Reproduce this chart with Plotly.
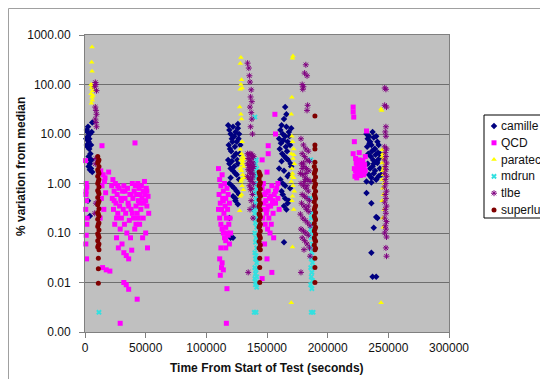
import plotly.graph_objects as go

# ---------------- data (time in s, % variation from median) ----------------
CAMILLE = [
    (2000, 11), (2500, 9), (1500, 12), (3000, 7), (3500, 5), (4000, 10), (4500, 4), (5000, 6),
    (5500, 3), (6000, 17), (1000, 8), (2000, 5.5), (3000, 3.5), (4000, 2.5), (5000, 2), (6000, 1.7),
    (2500, 14), (3500, 8), (4500, 3), (5500, 11), (1500, 6), (3000, 2.2), (4000, 1.9), (2500, 0.45),
    (4000, 0.22),
    (118000, 15), (119000, 12), (120000, 10), (121000, 8), (122000, 14), (123000, 9), (124000, 11),
    (125000, 7), (126000, 13), (127000, 10), (128000, 6), (118500, 6), (119500, 5), (120500, 4.5),
    (121500, 7), (122500, 3.5), (123500, 5.5), (124500, 4), (125500, 3), (126500, 8), (127500, 4),
    (118000, 3), (119000, 2.5), (120000, 2), (121000, 2.8), (122000, 1.8), (123000, 2.2),
    (124000, 1.6), (125000, 1.5), (126000, 2.5), (127000, 1.2), (119000, 1.0), (121000, 0.9),
    (123000, 0.8), (125000, 0.7), (127000, 0.6), (120000, 1.3), (122000, 0.55), (124000, 0.45),
    (126000, 0.38), (120000, 0.08), (122000, 0.08), (119000, 0.2), (124000, 0.5), (126000, 16),
    (160000, 8), (161000, 12), (162000, 15), (163000, 10), (164000, 20), (165000, 9), (166000, 14),
    (167000, 7), (168000, 11), (169000, 6), (170000, 13), (160500, 5), (161500, 6.5), (162500, 4),
    (163500, 7.5), (164500, 3.5), (165500, 5.5), (166500, 4.5), (167500, 3), (168500, 9),
    (169500, 2.5), (160000, 2), (162000, 2.8), (164000, 1.8), (166000, 3.2), (168000, 1.5),
    (170000, 2.2), (161000, 1.2), (163000, 1.0), (165000, 0.9), (167000, 1.4), (169000, 0.8),
    (163000, 0.6), (165000, 0.5), (167000, 0.4), (164000, 0.35), (166000, 0.3), (168000, 0.45),
    (162000, 0.7), (165000, 35), (164000, 0.065), (166000, 25),
    (232000, 10), (233000, 8), (234000, 9), (235000, 7), (236000, 6), (237000, 11), (238000, 8.5),
    (239000, 5), (240000, 9), (241000, 7), (242000, 6), (243000, 4), (232500, 5.5), (233500, 4),
    (234500, 6.5), (235500, 3.5), (236500, 4.5), (237500, 3), (238500, 5), (239500, 3.8),
    (240500, 2.8), (241500, 4.2), (242500, 3.2), (233000, 2.5), (235000, 2), (237000, 2.2),
    (239000, 1.8), (241000, 2.6), (243000, 2), (234000, 1.5), (236000, 1.3), (238000, 1.6),
    (240000, 1.2), (242000, 1.4), (232000, 1.1), (236000, 1.05), (240000, 1.2), (244000, 1.5),
    (238000, 2.5), (232000, 0.64), (236000, 0.4), (240000, 0.21), (241000, 0.2), (238000, 0.128),
    (236000, 0.04), (237000, 0.013), (240000, 0.013),
]

QCD = [
    (500, 2.9), (1000, 1.0), (1500, 0.85), (800, 0.6), (1200, 0.45), (600, 0.3), (1800, 0.2),
    (1000, 0.09), (700, 0.06), (1300, 0.03), (1500, 0.15), (900, 0.7),
    (14000, 5.8), (13000, 1.8), (15000, 1.5), (19500, 1.7), (16000, 1.1), (14000, 0.9),
    (17000, 0.65), (13500, 0.5), (15500, 0.3), (12500, 0.2), (14500, 0.02), (17500, 0.018),
    (20500, 0.017), (16500, 1.3),
    (22000, 0.9), (22500, 0.5), (23000, 1.2), (23500, 0.3), (24000, 0.7), (24500, 0.15),
    (25000, 1.0), (25500, 0.4), (26000, 0.08), (26500, 0.6), (27000, 0.25), (27500, 0.05),
    (28000, 0.8), (28500, 0.35), (29000, 0.12), (29500, 0.5), (30000, 0.2), (30500, 0.06),
    (31000, 0.7), (31500, 0.3), (32000, 0.04), (32500, 0.15), (33000, 0.5), (33500, 0.25),
    (34000, 0.035), (34500, 0.1), (35000, 0.8), (35500, 0.4), (36000, 0.03), (36500, 0.18),
    (37000, 0.6), (37500, 0.08), (38000, 0.3), (38500, 0.045), (39000, 1.0), (39500, 0.5),
    (40000, 0.2), (40500, 0.7), (41000, 0.12), (41500, 0.9), (42000, 0.35), (42500, 0.6),
    (43000, 0.25), (43500, 1.0), (44000, 0.45), (44500, 0.8), (45000, 0.15), (45500, 0.6),
    (46000, 0.3), (46500, 0.9), (47000, 0.5), (47500, 0.08), (48000, 0.7), (48500, 0.4),
    (49000, 1.1), (49500, 0.6), (50000, 0.1), (50500, 0.8), (51000, 0.35), (51500, 0.05),
    (52000, 0.55), (52500, 0.25), (24000, 0.45), (27000, 0.9), (30000, 0.45), (33000, 0.7),
    (36000, 0.35), (39000, 0.25), (42000, 0.15), (45000, 0.4), (48000, 0.2), (51000, 0.7),
    (26000, 0.2), (32000, 0.9), (38000, 0.6), (44000, 0.2), (50000, 0.45), (41200, 6.6),
    (29000, 0.0015), (32000, 0.01), (34000, 0.009), (36000, 0.0073), (43000, 0.0046),
    (110000, 2.0), (111000, 1.2), (112000, 0.9), (113000, 1.5), (114000, 0.7), (115000, 1.0),
    (116000, 0.5), (117000, 0.8), (118000, 0.6), (119000, 0.4), (110500, 0.6), (111500, 0.4),
    (112500, 0.3), (113500, 0.5), (114500, 0.25), (115500, 0.35), (116500, 0.2), (117500, 0.3),
    (118500, 0.15), (111000, 0.2), (112000, 0.15), (113000, 0.12), (114000, 0.1), (115000, 0.08),
    (116000, 0.07), (117000, 0.1), (118000, 0.09), (119000, 0.06), (110000, 0.3), (114000, 0.45),
    (116000, 0.13), (112000, 0.05), (111000, 0.03), (112500, 0.02), (113000, 0.025),
    (111500, 0.014), (114000, 0.018), (116000, 0.05), (117000, 0.0075), (116500, 0.0015),
    (120000, 0.1), (119500, 0.2),
    (146000, 0.8), (147000, 1.0), (148000, 0.6), (149000, 0.45), (150000, 0.3), (151000, 0.7),
    (152000, 0.5), (153000, 0.35), (154000, 0.9), (155000, 0.25), (156000, 0.6), (157000, 0.4),
    (158000, 0.8), (159000, 0.5), (160000, 0.3), (146500, 0.2), (147500, 0.4), (148500, 0.15),
    (149500, 0.25), (150500, 0.12), (151500, 0.2), (152500, 0.1), (153500, 0.15), (154500, 0.4),
    (155500, 0.08), (147000, 0.3), (149000, 0.65), (151000, 0.35), (153000, 0.55), (155000, 0.45),
    (157000, 0.7), (159000, 1.0), (150000, 1.7), (151000, 4), (151000, 5.8), (156500, 25),
    (157000, 10), (150000, 0.03), (154000, 0.016), (146000, 0.012), (148000, 0.06), (146000, 3),
    (222000, 2.0), (223000, 1.8), (224000, 2.5), (225000, 1.5), (226000, 3.0), (227000, 2.2),
    (228000, 1.7), (229000, 2.8), (230000, 2.0), (231000, 3.5), (222500, 1.4), (223500, 2.6),
    (224500, 1.9), (225500, 2.3), (226500, 1.6), (227500, 2.9), (228500, 2.1), (229500, 1.5),
    (230500, 2.4), (223000, 3.2), (225000, 2.0), (227000, 1.45), (229000, 2.0), (231000, 1.8),
    (224000, 1.6), (226000, 2.0), (228000, 2.5), (230000, 1.6), (232000, 11.5), (221000, 35),
    (221000, 28), (221500, 22), (222000, 7), (221000, 4.0), (224000, 1.3), (226000, 4.2),
]

PARATEC = [
    (5800, 570), (5500, 280), (5800, 185), (5000, 100), (6000, 95), (5500, 85), (6300, 75),
    (5000, 65), (5800, 55), (6000, 48), (5300, 42), (6500, 60),
    (128500, 350), (128000, 265), (129000, 125), (128500, 100), (129500, 85), (128000, 80),
    (127500, 35), (128500, 25), (129000, 20), (129500, 7), (128000, 4.9), (129000, 4),
    (130000, 3.5), (128500, 3), (129500, 2.5), (130500, 2.2), (128000, 2), (129000, 1.8),
    (130000, 1.5), (131000, 1.3), (128500, 1.1), (129500, 0.9), (130500, 0.75), (129000, 0.6),
    (128000, 0.55), (127500, 0.28), (130000, 2.8), (131000, 3.2), (129000, 1.2),
    (171400, 375), (171000, 340), (170500, 55), (170000, 25), (170500, 9), (171000, 7),
    (172000, 5), (170000, 4), (171500, 3.2), (172500, 2.5), (170500, 2), (171000, 1.6),
    (172000, 1.3), (170000, 1.1), (171500, 0.9), (172500, 0.7), (171000, 0.55), (170500, 0.45),
    (172000, 0.3), (171000, 0.052), (170000, 0.0039), (172000, 3.8), (170500, 1.4),
    (244000, 32), (244500, 30), (245000, 4.8), (245500, 4), (246000, 3.2), (245000, 2.6),
    (246500, 2.2), (245500, 1.8), (246000, 1.5), (245000, 1.2), (246500, 1.0), (245500, 0.8),
    (246000, 0.6), (245000, 0.45), (246500, 0.3), (245500, 0.2), (246000, 0.13), (244000, 0.0039),
    (245000, 3.5), (246000, 2.0),
]

MDRUN = [
    (11500, 0.0025),
    (140000, 22), (141000, 3), (140500, 2.5), (141500, 2), (140000, 1.6), (141000, 1.3),
    (140500, 1.0), (141500, 0.8), (140000, 0.65), (141000, 0.5), (140500, 0.4), (141500, 0.32),
    (140000, 0.25), (141000, 0.2), (140500, 0.16), (141500, 0.13), (140000, 0.1), (141000, 0.08),
    (140500, 0.065), (141500, 0.05), (140000, 0.04), (141000, 0.035), (140500, 0.03),
    (141500, 0.025), (140000, 0.02), (141000, 0.018), (140500, 0.015), (141500, 0.013),
    (140000, 0.012), (141000, 0.01), (140500, 0.009), (141500, 0.008), (139500, 0.0025),
    (141000, 0.0025), (139000, 0.3), (142000, 1.5),
    (186000, 3), (187000, 0.25), (186500, 0.2), (187500, 0.15), (186000, 0.12), (187000, 0.1),
    (186500, 0.08), (187500, 0.06), (186000, 0.05), (187000, 0.04), (186500, 0.03),
    (187500, 0.025), (186000, 0.02), (187000, 0.016), (186500, 0.013), (187500, 0.011),
    (186000, 0.009), (187000, 0.0075), (186500, 0.0025), (188000, 0.0025), (185500, 0.5),
]

TLBE = [
    (8500, 110), (9000, 100), (8000, 90), (9500, 75), (8500, 35), (9000, 30), (9500, 25),
    (8500, 20), (9000, 17), (9500, 14), (9000, 3.2), (8500, 2.5), (9000, 0.4), (8000, 0.25),
    (134000, 270), (135000, 215), (135500, 150), (136000, 112), (137000, 78), (136500, 56),
    (137500, 45), (136000, 35), (137000, 27), (137500, 20), (136500, 14), (138000, 10),
    (134000, 4), (135000, 3.8), (136000, 4), (137000, 3.9), (138000, 3.7), (139000, 3.5),
    (134500, 3.2), (135500, 3), (136500, 2.8), (137500, 3.3), (138500, 2.6), (134000, 2.5),
    (135000, 2.3), (136000, 2.1), (137000, 2.4), (138000, 2), (139000, 2.2), (134500, 1.9),
    (135500, 1.8), (136500, 1.6), (137500, 1.7), (138500, 1.5), (134000, 1.4), (135000, 1.3),
    (136000, 1.2), (137000, 1.1), (138000, 1.3), (139000, 1.0), (135500, 0.9), (137500, 0.8),
    (136500, 0.75), (138000, 0.6), (137000, 0.45), (136000, 0.3), (139000, 0.35),
    (134500, 0.016), (138500, 0.2),
    (182000, 250), (181000, 170), (183000, 150), (179000, 100), (180000, 90), (179500, 80),
    (183500, 38), (183000, 30),
    (178000, 8), (180000, 6), (182000, 5), (184000, 4.5), (179000, 4), (181000, 3.5),
    (183000, 3), (185000, 2.8), (178500, 2.5), (180500, 2.2), (182500, 2), (184500, 1.8),
    (177500, 1.6), (179500, 1.5), (181500, 1.3), (183500, 1.2), (185500, 1.1), (178000, 1.0),
    (180000, 0.9), (182000, 0.8), (184000, 0.7), (179000, 0.6), (181000, 0.55), (183000, 0.5),
    (185000, 0.45), (178500, 0.4), (180500, 0.35), (182500, 0.3), (184500, 0.27),
    (177500, 0.24), (179500, 0.2), (181500, 0.18), (183500, 0.16), (185500, 0.14),
    (178000, 0.12), (180000, 0.11), (182000, 0.1), (184000, 0.09), (179000, 0.08),
    (181000, 0.07), (183000, 0.06), (185000, 0.05), (180000, 2.6), (182000, 1.6), (184000, 0.35),
    (181000, 1.1), (183000, 0.9), (179000, 2.0), (178000, 0.016), (185500, 0.034),
    (180500, 0.046),
    (247000, 85), (248000, 80), (247000, 38), (248500, 35), (248000, 14), (247500, 11),
    (248000, 9), (247000, 5.5), (248500, 5), (247500, 4.2), (248000, 3.5), (247000, 3),
    (248500, 2.6), (247500, 2.2), (248000, 1.9), (247000, 1.6), (248500, 1.4), (247500, 1.2),
    (248000, 1.0), (247000, 0.85), (248500, 0.7), (247500, 0.6), (248000, 0.5), (247000, 0.42),
    (248500, 0.35), (247500, 0.3), (248000, 0.25), (247000, 0.2), (248500, 0.17),
    (247500, 0.14), (248000, 0.12), (247000, 0.1), (248500, 0.083), (248000, 0.05),
    (248500, 0.034),
]

SUPERLU = [
    (10500, 3.5), (11500, 3.0), (10500, 2.6), (11500, 2.2), (10500, 1.9), (11500, 1.6),
    (10500, 1.4), (11500, 1.2), (10500, 1.0), (11500, 0.85), (10500, 0.72), (11500, 0.62),
    (10500, 0.52), (11500, 0.44), (10500, 0.37), (11500, 0.31), (10500, 0.26), (11500, 0.22),
    (10500, 0.19), (11500, 0.16), (10500, 0.135), (11500, 0.115), (10500, 0.097), (11500, 0.082),
    (10500, 0.07), (11500, 0.06), (10500, 0.052), (11500, 0.046), (11000, 2.8), (11000, 1.75),
    (11000, 1.1), (11000, 0.68), (11000, 0.41), (11000, 0.24), (11000, 0.15), (11000, 0.09),
    (11000, 0.056), (11000, 0.031), (11000, 0.019), (11000, 0.0097),
    (143500, 1.7), (144500, 1.45), (143500, 1.25), (144500, 1.05), (143500, 0.9), (144500, 0.77),
    (143500, 0.65), (144500, 0.55), (143500, 0.47), (144500, 0.4), (143500, 0.34), (144500, 0.29),
    (143500, 0.245), (144500, 0.21), (143500, 0.18), (144500, 0.15), (143500, 0.13),
    (144500, 0.11), (143500, 0.093), (144500, 0.079), (143500, 0.067), (144500, 0.057),
    (143500, 0.05), (144500, 0.046), (144000, 1.55), (144000, 0.97), (144000, 0.6),
    (144000, 0.37), (144000, 0.23), (144000, 0.14), (144000, 0.086), (144000, 0.031),
    (144000, 0.02), (144000, 0.01),
    (189000, 2.2), (190000, 1.9), (189000, 1.6), (190000, 1.35), (189000, 1.15), (190000, 0.98),
    (189000, 0.83), (190000, 0.7), (189000, 0.6), (190000, 0.5), (189000, 0.43), (190000, 0.36),
    (189000, 0.3), (190000, 0.26), (189000, 0.22), (190000, 0.185), (189000, 0.155),
    (190000, 0.13), (189000, 0.11), (190000, 0.094), (189000, 0.08), (190000, 0.068),
    (189000, 0.057), (190000, 0.049), (189500, 0.046), (189500, 1.75), (189500, 0.9),
    (189500, 0.55), (189500, 0.33), (189500, 0.2), (189500, 0.12), (189500, 0.072),
    (189500, 23), (189500, 6), (189500, 5), (189500, 2.7), (189500, 0.031), (189500, 0.02),
    (189500, 0.01),
]

X_TICKS = [0, 50000, 100000, 150000, 200000, 250000, 300000]
Y_TICKS = [0.001, 0.01, 0.1, 1, 10, 100, 1000]
Y_TICK_TEXT = ["0.00", "0.01", "0.10", "1.00", "10.00", "100.00", "1000.00"]

SERIES = [
    ("camille", CAMILLE, dict(symbol="diamond", size=5, color="#000080")),
    ("QCD", QCD, dict(symbol="square", size=5, color="#FF00FF")),
    ("paratec", PARATEC, dict(symbol="triangle-up", size=5, color="#FFFF00")),
    ("mdrun", MDRUN, dict(symbol="x", size=5, color="#33E0E0")),
    ("tlbe", TLBE, dict(symbol="asterisk-open", size=5, color="#800080",
                        line=dict(color="#800080", width=1))),
    ("superlu", SUPERLU, dict(symbol="circle", size=5, color="#800000")),
]

# ---------------- figure ----------------
W, H = 548, 379
OFF = 8  # page body margin of the rendered html
FONT = "Liberation Sans, Arial, sans-serif"
PL, PR, PT, PB = 85 - OFF, 449 - OFF, 35 - OFF, 332 - OFF          # plot area (px)
LG_L, LG_R, LG_T, LG_B = 484 - OFF, 546 - OFF, 115 - OFF, 218 - OFF  # legend box (px)

fig = go.Figure()
for name, pts, mk in SERIES:
    xs = [p[0] for p in pts]
    ys = [p[1] for p in pts]
    m = dict(mk)
    if "line" not in m:
        m["line"] = dict(width=0)
    fig.add_trace(go.Scatter(x=xs, y=ys, mode="markers", name=name, marker=m,
                             showlegend=False, xaxis="x", yaxis="y", cliponaxis=False))

# compact legend (markers on a hidden helper axis, labels as annotations)
for i, (name, pts, mk) in enumerate(SERIES):
    m = dict(mk)
    if "line" not in m:
        m["line"] = dict(width=0)
    yy = 11 + 16.8 * i
    fig.add_trace(go.Scatter(x=[10], y=[yy], mode="markers", marker=m,
                             showlegend=False, xaxis="x2", yaxis="y2", hoverinfo="skip"))
    fig.add_annotation(x=14.5, y=yy, xref="x2", yref="y2", text=name,
                       showarrow=False, xanchor="left", yanchor="middle",
                       font=dict(family=FONT, size=12, color="#111"))

fig.update_layout(
    width=W, height=H,
    margin=dict(l=0, r=0, t=0, b=0, autoexpand=False),
    paper_bgcolor="white",
    plot_bgcolor="#C0C0C0",
    showlegend=False,
    font=dict(family=FONT, size=12, color="#111"),
    xaxis=dict(
        domain=[PL / W, PR / W], range=[0, 300000], tickvals=X_TICKS,
        ticktext=[str(v) for v in X_TICKS], showgrid=False, zeroline=False,
        showline=True, linecolor="#808080", linewidth=1, mirror=True,
        ticks="outside", ticklen=5, tickcolor="#808080",
        tickfont=dict(family=FONT, size=12, color="#111"), anchor="y",
    ),
    yaxis=dict(
        domain=[1 - PB / H, 1 - PT / H], type="log", range=[-3, 3],
        tickvals=Y_TICKS, ticktext=Y_TICK_TEXT, showgrid=True, gridcolor="#6E6E6E",
        gridwidth=1, zeroline=False, showline=True, linecolor="#808080", linewidth=1,
        mirror=True, ticks="outside", ticklen=5, tickcolor="#808080",
        ticklabelstandoff=6,
        tickfont=dict(family=FONT, size=12, color="#111"), anchor="x",
    ),
    xaxis2=dict(domain=[LG_L / W, LG_R / W], range=[0, LG_R - LG_L], visible=False,
                anchor="y2", fixedrange=True),
    yaxis2=dict(domain=[1 - LG_B / H, 1 - LG_T / H], range=[LG_B - LG_T, 0], visible=False,
                anchor="x2", fixedrange=True),
)

# outer chart border and legend box
fig.add_shape(type="rect", xref="paper", yref="paper", x0=0.5 / W, x1=1.2, y0=-0.2,
              y1=1 - 0.5 / H, line=dict(color="#A0A0A0", width=1),
              fillcolor="rgba(0,0,0,0)", layer="below")
fig.add_shape(type="rect", xref="paper", yref="paper", x0=LG_L / W, x1=LG_R / W,
              y0=1 - LG_B / H, y1=1 - LG_T / H, line=dict(color="#000", width=1),
              fillcolor="white", layer="below")

# axis titles
fig.add_annotation(text="<b>Time From Start of Test (seconds)</b>", xref="paper", yref="paper",
                   x=(PL + PR) / 2 / W, y=1 - (368 - OFF) / H, showarrow=False,
                   xanchor="center", yanchor="middle",
                   font=dict(family=FONT, size=12, color="#111"))
fig.add_annotation(text="<b>% variation from median</b>", xref="paper", yref="paper",
                   x=(21 - OFF) / W, y=1 - (167 - OFF) / H, showarrow=False, textangle=-90,
                   xanchor="center", yanchor="middle",
                   font=dict(family=FONT, size=12, color="#111"))

fig.write_html("out.html")
